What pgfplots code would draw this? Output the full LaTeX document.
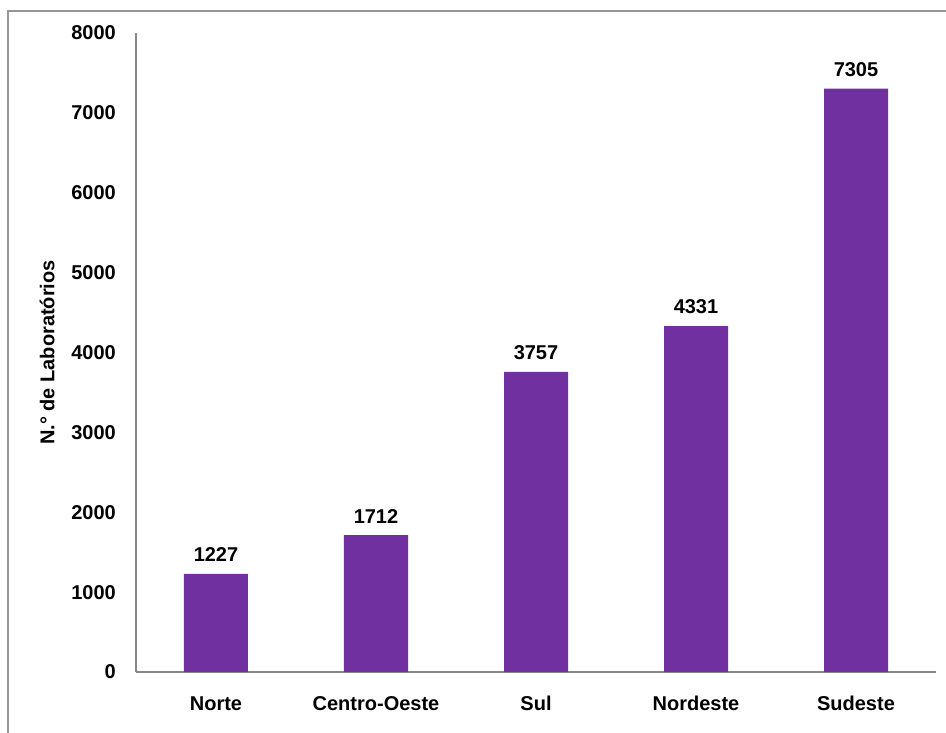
\documentclass[border=0pt]{standalone}
\usepackage{pgfplots}
\pgfplotsset{compat=1.18}
\usepackage{fontspec}
\setmainfont{Liberation Sans}
\definecolor{barpurple}{RGB}{112,48,160}
\definecolor{axgray}{RGB}{134,134,134}
\definecolor{framegray}{RGB}{150,150,150}
\begin{document}
\begin{tikzpicture}[x=1pt,y=1pt]
\useasboundingbox (0,0) rectangle (946,733);
\draw[framegray, line width=1.2pt] (8,0) -- (8,722) -- (946,722);
\begin{axis}[
  at={(136pt,61pt)}, anchor=south west,
  width=800pt, height=639pt, scale only axis,
  xmin=-0.5, xmax=4.5, ymin=0, ymax=8000,
  axis lines=left,
  axis line style={-, axgray, line width=1.2pt},
  major tick length=0pt,
  ytick={0,1000,...,8000},
  xtick={0,1,2,3,4},
  xticklabels={Norte,Centro-Oeste,Sul,Nordeste,Sudeste},
  font=\fontsize{20}{24}\selectfont\bfseries,
  /pgf/number format/assume math mode=true,
  /pgf/number format/set thousands separator={},
  yticklabel style={inner sep=0pt, anchor=east, xshift=-20pt},
  xticklabel style={inner sep=0pt, anchor=base, yshift=-39pt},
  ylabel={N.° de Laboratórios},
  ylabel style={at={(axis description cs:-0.111,0.5)}, anchor=center},
  ybar, bar width=64pt,
  nodes near coords,
  nodes near coords style={inner sep=0pt, anchor=south, yshift=12pt, black},
  clip=false,
]
\addplot[fill=barpurple, draw=none] coordinates {(0,1227) (1,1712) (2,3757) (3,4331) (4,7305)};
\end{axis}
\end{tikzpicture}
\end{document}
